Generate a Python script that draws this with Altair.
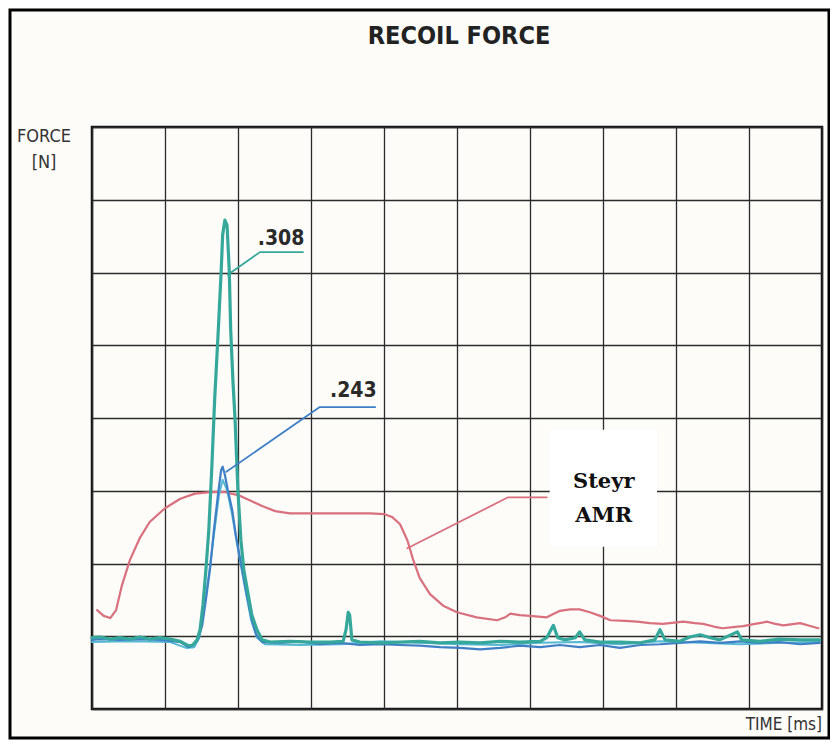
import altair as alt
import pandas as pd

# values in grid divisions (x: time divisions 0-10, y: force divisions 0-8)
red_t = [0.07,0.16,0.25,0.33,0.41,0.52,0.66,0.79,1.00,1.21,1.41,1.62,1.82,2.00,2.16,2.33,2.51,2.71,3.00,3.40,3.81,4.00,4.11,4.22,4.32,4.40,4.49,4.63,4.81,5.00,5.27,5.55,5.66,5.73,5.86,6.00,6.23,6.41,6.55,6.68,6.82,6.96,7.10,7.30,7.47,7.64,7.82,8.10,8.26,8.37,8.53,8.64,8.81,8.92,9.08,9.25,9.36,9.47,9.70,9.84,9.95]
red_f = [1.36,1.28,1.25,1.36,1.70,2.05,2.36,2.57,2.76,2.89,2.96,2.98,2.98,2.94,2.87,2.79,2.72,2.69,2.69,2.69,2.69,2.68,2.64,2.54,2.32,2.05,1.80,1.58,1.42,1.33,1.26,1.22,1.26,1.31,1.29,1.28,1.26,1.35,1.37,1.37,1.33,1.28,1.22,1.21,1.20,1.18,1.17,1.20,1.18,1.17,1.13,1.11,1.13,1.14,1.17,1.20,1.17,1.15,1.18,1.14,1.11]

teal_t = [0,0.11,0.25,0.38,0.52,0.66,0.79,0.93,1.07,1.21,1.32,1.38,1.44,1.48,1.52,1.56,1.60,1.64,1.68,1.73,1.77,1.79,1.82,1.85,1.88,1.90,1.93,1.96,2.00,2.04,2.08,2.14,2.19,2.26,2.33,2.44,2.71,2.99,3.26,3.44,3.48,3.51,3.53,3.56,3.67,3.95,4.22,4.49,4.77,5.04,5.32,5.59,5.86,6.14,6.23,6.32,6.38,6.48,6.62,6.68,6.75,6.96,7.23,7.51,7.71,7.78,7.85,8.05,8.19,8.33,8.47,8.60,8.84,8.90,9.15,9.42,9.70,9.97]
teal_f = [0.98,0.99,0.96,0.98,0.96,0.99,0.96,0.98,0.96,0.93,0.87,0.88,0.95,1.09,1.43,1.91,2.46,3.29,4.25,5.21,6.03,6.52,6.72,6.65,6.03,5.21,4.52,3.97,2.98,2.32,1.91,1.57,1.29,1.09,0.95,0.92,0.93,0.92,0.92,0.93,1.09,1.33,1.29,0.95,0.92,0.91,0.92,0.93,0.91,0.92,0.91,0.93,0.92,0.93,0.98,1.15,0.98,0.95,0.98,1.06,0.95,0.92,0.92,0.91,0.95,1.09,0.95,0.93,0.99,1.02,0.98,0.95,1.06,0.95,0.93,0.96,0.95,0.95]

blue_t = [0,0.11,0.38,0.66,0.93,1.21,1.32,1.38,1.45,1.51,1.56,1.62,1.67,1.73,1.77,1.79,1.82,1.86,1.92,1.97,2.05,2.12,2.19,2.25,2.33,2.58,2.85,3.12,3.40,3.67,3.95,4.22,4.49,4.77,5.04,5.32,5.59,5.86,6.14,6.41,6.68,6.96,7.23,7.51,7.78,8.05,8.33,8.60,8.88,9.15,9.42,9.70,9.97]
blue_f = [0.95,0.96,0.95,0.96,0.95,0.92,0.85,0.87,0.95,1.15,1.50,1.95,2.46,2.98,3.29,3.33,3.22,3.01,2.74,2.39,1.95,1.57,1.22,1.02,0.92,0.91,0.93,0.89,0.91,0.88,0.89,0.88,0.87,0.85,0.84,0.82,0.84,0.87,0.85,0.88,0.85,0.88,0.84,0.88,0.89,0.91,0.93,0.91,0.93,0.91,0.92,0.89,0.91]

cyan_t = [0,0.52,1.07,1.29,1.40,1.47,1.53,1.60,1.67,1.74,1.79,1.85,1.92,2.00,2.10,2.18,2.26,2.37,2.85,3.40,3.95,4.49,5.04,5.59,6.14,6.68,7.23,7.78,8.33,8.88,9.42,9.97]
cyan_f = [0.92,0.93,0.92,0.84,0.85,0.98,1.36,1.84,2.39,2.94,3.15,3.01,2.67,2.19,1.64,1.22,0.98,0.89,0.88,0.89,0.93,0.91,0.89,0.88,0.91,0.92,0.89,0.93,0.91,0.89,0.91,0.92]

# annotation leaders
teal_lead_t = [1.86, 2.30, 2.89]
teal_lead_f = [5.97, 6.28, 6.28]
blue_lead_t = [1.84, 3.12, 3.88]
blue_lead_f = [3.26, 4.15, 4.15]
red_lead_t = [4.32, 5.70, 6.23]
red_lead_f = [2.21, 2.91, 2.91]

RED = "#d8707e"
TEAL = "#35a89b"
BLUE = "#3f7fc6"
CYAN = "#55b9d6"
COND = "DejaVu Sans Condensed, Liberation Sans Narrow, Roboto Condensed, Roboto, sans-serif"

xs = alt.Scale(domain=[0, 10], nice=False, zero=False)
ys = alt.Scale(domain=[0, 8], nice=False, zero=False)


def series(t, f):
    return pd.DataFrame({"t": t, "f": f, "i": list(range(len(t)))})


def line(t, f, color, width):
    return alt.Chart(series(t, f)).mark_line(color=color, strokeWidth=width, strokeJoin="round", strokeCap="round").encode(
        x=alt.X("t:Q", scale=xs, axis=alt.Axis(values=list(range(11)), grid=True, labels=False, ticks=False, domain=False, title=None, gridColor="#2b2b2b", gridWidth=1.3)),
        y=alt.Y("f:Q", scale=ys, axis=alt.Axis(values=list(range(9)), grid=True, labels=False, ticks=False, domain=False, title=None, gridColor="#2b2b2b", gridWidth=1.3)),
        order="i:Q",
    )


box = alt.Chart(pd.DataFrame({"x1": [6.27], "x2": [7.74], "y1": [2.23], "y2": [3.84]})).mark_rect(color="#ffffff").encode(
    x=alt.X("x1:Q", scale=xs), x2="x2:Q", y=alt.Y("y1:Q", scale=ys), y2="y2:Q"
)

labels = pd.DataFrame({
    "t": [2.27, 3.26],
    "f": [6.38, 4.29],
    "txt": [".308", ".243"],
})
lab = alt.Chart(labels).mark_text(font=COND, fontWeight="bold", fontSize=21, color="#2a2a2a", align="left", baseline="alphabetic").encode(
    x=alt.X("t:Q", scale=xs), y=alt.Y("f:Q", scale=ys), text="txt:N"
)

steyr = pd.DataFrame({"t": [7.01, 7.01], "f": [3.04, 2.57], "txt": ["Steyr", "AMR"]})
stl = alt.Chart(steyr).mark_text(font="DejaVu Serif", fontWeight="bold", fontSize=21, color="#111111", align="center", baseline="alphabetic").encode(
    x=alt.X("t:Q", scale=xs), y=alt.Y("f:Q", scale=ys), text="txt:N"
)

one = pd.DataFrame({"a": [0]})
title = alt.Chart(one).mark_text(text="RECOIL FORCE", font=COND, fontWeight="bold", fontSize=25, color="#222222", align="center", baseline="alphabetic").encode(
    x=alt.value(367), y=alt.value(-83)
)
force1 = alt.Chart(one).mark_text(text="FORCE", font=COND, fontSize=18, color="#333333", align="center", baseline="alphabetic").encode(
    x=alt.value(-48), y=alt.value(15)
)
force2 = alt.Chart(one).mark_text(text="[N]", font=COND, fontSize=18, color="#333333", align="center", baseline="alphabetic").encode(
    x=alt.value(-48), y=alt.value(41)
)
timel = alt.Chart(one).mark_text(text="TIME [ms]", font=COND, fontSize=17, color="#333333", align="right", baseline="alphabetic").encode(
    x=alt.value(730), y=alt.value(603)
)
frame = alt.Chart(one).mark_rect(filled=False, stroke="#000000", strokeWidth=3).encode(
    x=alt.value(-82), x2=alt.value(737), y=alt.value(-117), y2=alt.value(611)
)

chart = alt.layer(
    line(red_t, red_f, RED, 2.2),
    line(cyan_t, cyan_f, CYAN, 2.0),
    line(blue_t, blue_f, BLUE, 2.2),
    line(teal_t, teal_f, TEAL, 3.2),
    line(teal_lead_t, teal_lead_f, TEAL, 1.8),
    line(blue_lead_t, blue_lead_f, BLUE, 1.8),
    line(red_lead_t, red_lead_f, RED, 1.8),
    box, lab, stl, title, force1, force2, timel, frame,
).properties(
    width=730, height=582,
    autosize=alt.AutoSizeParams(type="none"),
    padding={"left": 84, "top": 119, "right": 8, "bottom": 31},
    background="#fdfcf9",
).configure_view(stroke="#111111", strokeWidth=2.5)

chart.save("out.html", embed_options={"renderer": "svg", "actions": False})
